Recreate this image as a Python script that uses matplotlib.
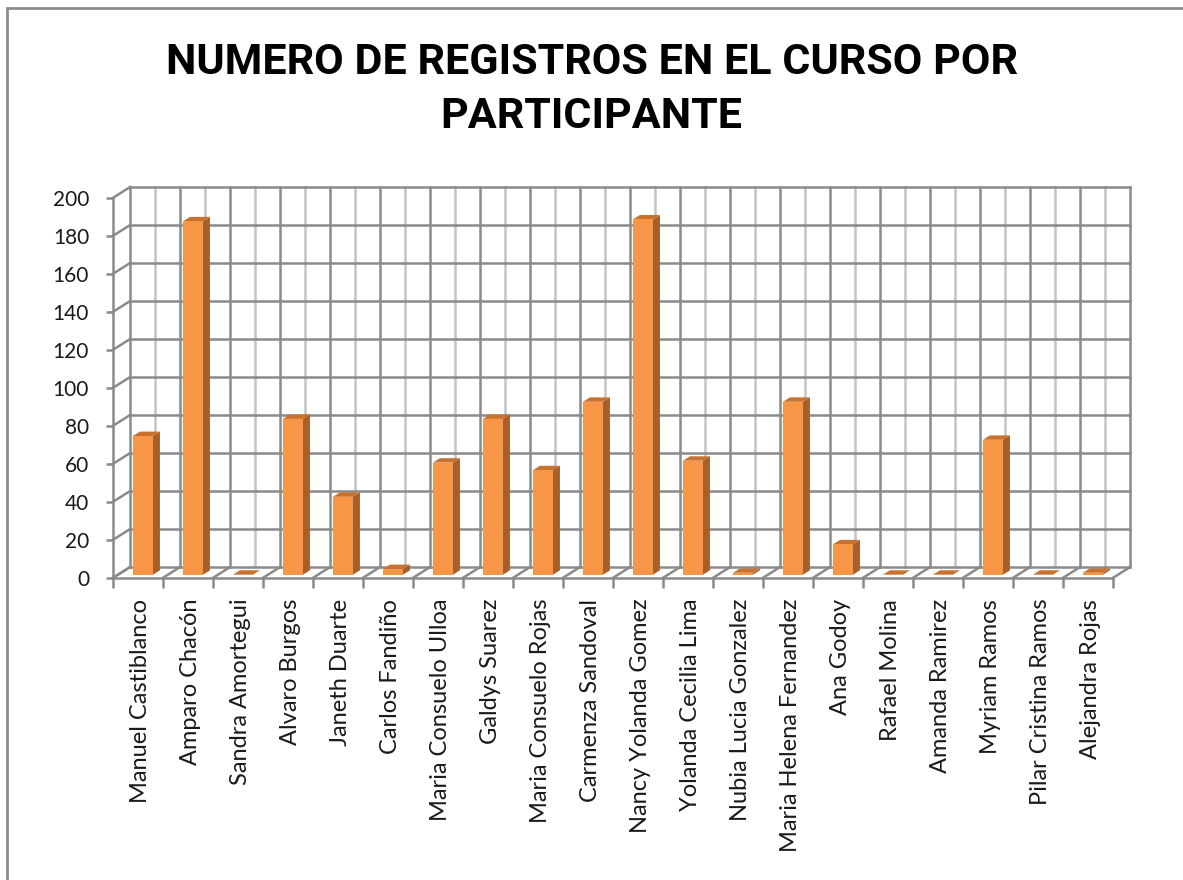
import numpy as np
import matplotlib.pyplot as plt
from matplotlib.patches import Polygon, Rectangle

# Datos del grafico
participantes = ["Manuel Castiblanco", "Amparo Chacón", "Sandra Amortegui", "Alvaro Burgos",
                 "Janeth Duarte", "Carlos Fandiño", "Maria Consuelo Ulloa", "Galdys Suarez",
                 "Maria Consuelo Rojas", "Carmenza Sandoval", "Nancy Yolanda Gomez",
                 "Yolanda Cecilia Lima", "Nubia Lucia Gonzalez", "Maria Helena Fernandez",
                 "Ana Godoy", "Rafael Molina", "Amanda Ramirez", "Myriam Ramos",
                 "Pilar Cristina Ramos", "Alejandra Rojas"]
registros = [73, 186, 0, 82, 41, 3, 59, 82, 55, 91, 187, 60, 1, 91, 16, 0, 0, 71, 0, 1]
y_ticks = [0, 20, 40, 60, 80, 100, 120, 140, 160, 180, 200]

n = len(participantes)
ymax = 200
# desplazamiento de profundidad (efecto 3D)
DX = 0.35
DY = 5.8

grid_col = '#8a8a8a'
light_col = '#c4c4c4'
front_col = '#F79646'
side_col = '#A6602C'
top_col = '#C9712F'

fig = plt.figure(figsize=(11.83, 8.8), dpi=100)
ax = fig.add_axes([112.7 / 1183, 302 / 880, 1000 / 1183, 380 / 880])
ax.set_xlim(0, n)
ax.set_ylim(0, ymax)

# Pared del fondo
for v in y_ticks:
    ax.plot([DX, n + DX], [v + DY, v + DY], color=grid_col, lw=1.8, clip_on=False, zorder=1)
    ax.plot([0, DX], [v, v + DY], color=grid_col, lw=1.8, clip_on=False, zorder=1)
for k in range(n + 1):
    ax.plot([k + DX, k + DX], [DY, ymax + DY], color=grid_col, lw=1.8, clip_on=False, zorder=1)
    ax.plot([k, k + DX], [0, DY], color=grid_col, lw=1.8, clip_on=False, zorder=1)
for k in range(n):
    ax.plot([k + 0.5 + DX, k + 0.5 + DX], [DY, ymax + DY], color=light_col, lw=1.8,
            clip_on=False, zorder=0.9)

# Barras 3D
w = 0.4
d0, d1 = 0.3, 0.7
for i, v in enumerate(registros):
    x0 = i + 0.5 - w / 2 + d0 * DX
    y0 = d0 * DY
    ox, oy = (d1 - d0) * DX, (d1 - d0) * DY
    front = [(x0, y0), (x0 + w, y0), (x0 + w, y0 + v), (x0, y0 + v)]
    side = [(x0 + w, y0), (x0 + w + ox, y0 + oy), (x0 + w + ox, y0 + v + oy), (x0 + w, y0 + v)]
    top = [(x0, y0 + v), (x0 + w, y0 + v), (x0 + w + ox, y0 + v + oy), (x0 + ox, y0 + v + oy)]
    for pts, c in [(side, side_col), (top, top_col), (front, front_col)]:
        ax.add_patch(Polygon(pts, closed=True, facecolor=c, edgecolor='none',
                             clip_on=False, zorder=3))

# Ejes
for s in ['top', 'right']:
    ax.spines[s].set_visible(False)
for s in ['left', 'bottom']:
    ax.spines[s].set_color(grid_col)
    ax.spines[s].set_linewidth(1.8)
    ax.spines[s].set_zorder(2)
ax.set_facecolor('none')

ax.set_yticks(y_ticks)
ax.set_yticklabels([str(v) for v in y_ticks])
ax.tick_params(axis='y', length=5, width=1.8, color=grid_col, pad=12,
               labelsize=15, labelcolor='#1a1a1a')
ax.set_xticks(np.arange(n + 1))
ax.set_xticklabels([])
ax.set_xticks(np.arange(n) + 0.55, minor=True)
ax.set_xticklabels(participantes, minor=True, rotation=90, va='top', ha='center')
ax.tick_params(axis='x', which='major', length=7, width=1.8, color=grid_col)
ax.tick_params(axis='x', which='minor', length=0, pad=15, labelsize=17, labelcolor='#1a1a1a')
for lab in ax.get_xticklabels(minor=True) + ax.get_yticklabels():
    lab.set_fontfamily(['Lato', 'DejaVu Sans'])

# Titulo
fig.text(0.5, 1 - 62 / 880, 'NUMERO DE REGISTROS EN EL CURSO POR', ha='center', va='center',
         fontsize=31, fontweight='bold', family=['Roboto', 'DejaVu Sans'])
fig.text(0.5, 1 - 117 / 880, 'PARTICIPANTE', ha='center', va='center',
         fontsize=31, fontweight='bold', family=['Roboto', 'DejaVu Sans'])

# Marco del area del grafico
fig.patches.append(Rectangle((7 / 1183, -0.1), 1.2, 1.1 - 8 / 880, transform=fig.transFigure,
                             fill=False, edgecolor='#8c8c8c', lw=2))

fig.savefig('out.png', dpi=100)
